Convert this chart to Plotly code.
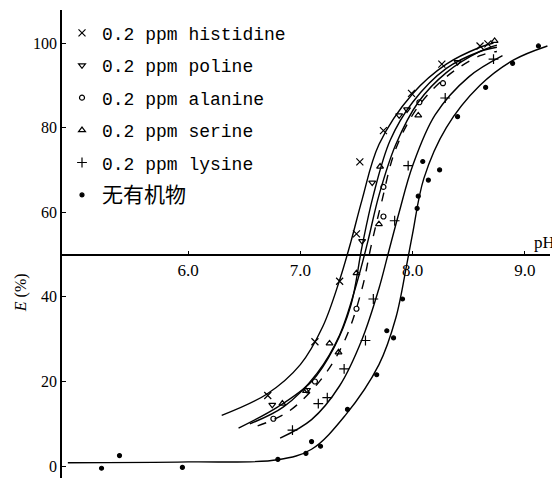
import plotly.graph_objects as go

# ---- data (pH, E %) ----
his_pts_ph = [6.71, 7.13, 7.35, 7.50, 7.53, 7.74, 7.99, 8.26, 8.60, 8.67]
his_pts_e = [16.7, 29.4, 43.7, 54.9, 71.9, 79.3, 88.1, 95.0, 99.3, 99.8]
his_fit_ph = [6.30, 6.70, 7.00, 7.20, 7.35, 7.45, 7.55, 7.70, 8.00, 8.30, 8.60, 8.72]
his_fit_e = [12, 17, 24, 33, 44, 53, 63, 76, 88, 95, 99, 100]

pol_pts_ph = [6.75, 7.06, 7.55, 7.64, 7.88, 7.95, 8.40]
pol_pts_e = [14.5, 18.0, 53.2, 67.0, 82.9, 84.3, 95.5]
pol_fit_ph = [6.45, 6.80, 7.10, 7.30, 7.45, 7.55, 7.65, 7.80, 8.00, 8.30, 8.60, 8.75]
pol_fit_e = [9, 14, 20, 28, 38, 52, 64, 77, 86, 94, 98, 99]

ala_pts_ph = [6.76, 7.13, 7.50, 7.74, 7.74, 8.06, 8.27]
ala_pts_e = [11.2, 20.0, 37.2, 59.0, 66.0, 86.0, 90.5]
ala_fit_ph = [6.62, 6.90, 7.20, 7.40, 7.55, 7.63, 7.72, 7.85, 8.05, 8.30, 8.60, 8.75]
ala_fit_e = [9.5, 13, 21, 30, 42, 52, 62, 75, 85, 92, 97, 98]

ser_pts_ph = [6.84, 7.05, 7.26, 7.34, 7.50, 7.70, 7.71, 8.05, 8.73]
ser_pts_e = [14.8, 17.8, 29.0, 26.9, 45.6, 57.2, 70.8, 82.9, 100.5]
ser_fit_ph = [6.55, 6.85, 7.15, 7.35, 7.50, 7.60, 7.70, 7.85, 8.05, 8.30, 8.60, 8.75]
ser_fit_e = [10, 14, 22, 31, 43, 53, 64, 76, 86, 93, 98, 99.5]

lys_pts_ph = [6.93, 7.16, 7.24, 7.39, 7.58, 7.65, 7.84, 7.96, 8.29, 8.72]
lys_pts_e = [8.5, 14.8, 16.2, 23.0, 29.7, 39.5, 58.0, 71.0, 87.0, 96.2]
lys_fit_ph = [6.82, 7.10, 7.35, 7.55, 7.70, 7.78, 7.88, 8.00, 8.20, 8.50, 8.80]
lys_fit_e = [6.6, 11, 19, 30, 42, 50, 60, 71, 83, 92, 97]

non_pts_ph = [5.23, 5.39, 5.95, 6.80, 7.05, 7.10, 7.18, 7.42, 7.68, 7.77, 7.83,
              7.91, 8.04, 8.05, 8.09, 8.14, 8.24, 8.40, 8.65, 8.89, 9.12]
non_pts_e = [-0.5, 2.5, -0.3, 1.6, 3.0, 5.8, 4.7, 13.4, 21.6, 32.0, 30.3,
             39.5, 60.9, 63.8, 72.0, 67.6, 70.0, 82.6, 89.5, 95.2, 99.3]
non_fit_ph = [4.93, 6.00, 6.80, 7.10, 7.40, 7.70, 7.85, 7.95, 8.00, 8.10, 8.30, 8.60, 8.90, 9.20]
non_fit_e = [0.8, 1.0, 1.5, 4, 12, 24, 35, 48, 55, 68, 80, 90, 96, 99.3]

names = ["0.2 ppm histidine", "0.2 ppm poline", "0.2 ppm alanine",
         "0.2 ppm serine", "0.2 ppm lysine", "无有机物"]
x_ticks = [6.0, 7.0, 8.0, 9.0]
y_ticks = [0, 20, 40, 60, 80, 100]

series = [
    (his_pts_ph, his_pts_e, his_fit_ph, his_fit_e, "x-thin-open", 7, "solid"),
    (pol_pts_ph, pol_pts_e, pol_fit_ph, pol_fit_e, "triangle-down-open", 6, "solid"),
    (ala_pts_ph, ala_pts_e, ala_fit_ph, ala_fit_e, "circle-open", 5, "dash"),
    (ser_pts_ph, ser_pts_e, ser_fit_ph, ser_fit_e, "triangle-up-open", 6, "solid"),
    (lys_pts_ph, lys_pts_e, lys_fit_ph, lys_fit_e, "cross-thin-open", 7, "solid"),
    (non_pts_ph, non_pts_e, non_fit_ph, non_fit_e, "circle", 4, "solid"),
]

fig = go.Figure()
for i, (px, py, fx, fy, sym, sz, dash) in enumerate(series):
    fig.add_trace(go.Scatter(x=fx, y=fy, mode="lines", line_shape="spline",
                             line=dict(color="black", width=1.4, dash=dash),
                             showlegend=False, hoverinfo="skip"))
    label = names[i]
    if i == 5:
        label = '<span style="font-family:Noto Sans CJK SC;font-size:21px">' + label + '</span>'
    fig.add_trace(go.Scatter(x=px, y=py, mode="markers", name=label,
                             legendgroup="g%d" % i,
                             marker=dict(symbol=sym, size=sz, color="black",
                                         line=dict(color="black", width=1.2))))

y_lo, y_hi = -2.8, 107.8
fig.update_layout(
    template="none",
    width=552, height=473,
    margin=dict(l=54, r=10, t=2, b=3, autoexpand=False),
    paper_bgcolor="white", plot_bgcolor="white",
    showlegend=True,
    legend=dict(x=0.0, y=0.99, xanchor="left", yanchor="top",
                font=dict(family="Liberation Mono", size=18, color="black"),
                tracegroupgap=6, bgcolor="rgba(0,0,0,0)"),
    xaxis=dict(range=[4.878, 9.223], anchor="free",
               position=(50 - y_lo) / (y_hi - y_lo),
               showline=True, linecolor="black", linewidth=1.5,
               tickvals=x_ticks, tickformat=".1f", ticks="inside",
               ticklen=3, tickcolor="black", showgrid=False, zeroline=False,
               automargin=False,
               tickfont=dict(family="Liberation Serif", size=17, color="black")),
    yaxis=dict(range=[y_lo, y_hi], showline=True, linecolor="black",
               linewidth=1.5, tickvals=y_ticks, ticks="inside", ticklen=4,
               tickcolor="black", showgrid=False, zeroline=False,
               automargin=False,
               tickfont=dict(family="Liberation Serif", size=16, color="black")),
    annotations=[
        dict(text="pH", x=9.17, y=50, xref="x", yref="y", showarrow=False,
             yanchor="bottom", yshift=1,
             font=dict(family="Liberation Serif", size=17, color="black")),
        dict(text="<i>E</i> (%)", x=-0.085, y=41, xref="paper", yref="y",
             xanchor="center", yanchor="middle",
             showarrow=False, textangle=-90,
             font=dict(family="Liberation Serif", size=16, color="black")),
    ],
)

fig.write_html("out.html")
